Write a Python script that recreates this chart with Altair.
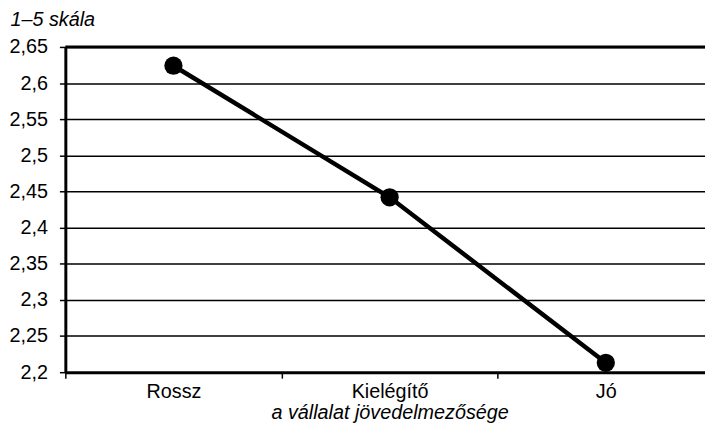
import altair as alt
import pandas as pd

categories = ["Rossz", "Kielégítő", "Jó"]
values = [2.624, 2.442, 2.213]
y_ticks = [2.2, 2.25, 2.3, 2.35, 2.4, 2.45, 2.5, 2.55, 2.6, 2.65]
y_domain = [2.2, 2.65]
y_title = "1–5 skála"
x_title = "a vállalat jövedelmezősége"

df = pd.DataFrame({"cat": categories, "val": values})
top_df = pd.DataFrame({"val": [y_domain[1]]})

FONT = "Liberation Sans"
FS = 20

x_enc = alt.X(
    "cat:N",
    sort=categories,
    title=x_title,
    scale=alt.Scale(type="band", range=[0, 656], paddingInner=0, paddingOuter=0),
    axis=alt.Axis(
        labelAngle=0,
        tickBand="extent",
        tickSize=6,
        labelPadding=4,
        titleFontStyle="italic",
        titleFontWeight="normal",
        titleY=41,
        titleBaseline="middle",
        grid=False,
    ),
)

y_axis = alt.Axis(
    values=y_ticks,
    labelExpr="replace(format(datum.value, '.2~f'), '.', ',')",
    labelOverlap=False,
    tickSize=6,
    labelPadding=12,
    grid=True,
    titleAngle=0,
    titleX=-56,
    titleY=-28,
    titleAlign="left",
    titleBaseline="middle",
    titleFontStyle="italic",
    titleFontWeight="normal",
)
y_scale = alt.Scale(domain=y_domain, nice=False, zero=False)

base = alt.Chart(df).encode(
    x=x_enc, y=alt.Y("val:Q", title=y_title, scale=y_scale, axis=y_axis)
)
line = base.mark_line(color="black", strokeWidth=4.5)
pts = base.mark_circle(color="black", size=340, opacity=1)
top = alt.Chart(top_df).mark_rule(color="black", strokeWidth=3).encode(
    y=alt.Y("val:Q", title=y_title, scale=y_scale, axis=y_axis)
)

chart = (
    alt.layer(line, pts, top)
    .properties(
        width=647,
        height=329,
        autosize=alt.AutoSizeParams(type="none"),
        padding={"left": 58, "top": 37, "right": 0, "bottom": 49},
    )
    .configure_view(stroke=None)
    .configure_axis(
        domainColor="black",
        domainWidth=3,
        tickColor="black",
        tickWidth=1.5,
        gridColor="black",
        gridWidth=1.5,
        labelFont=FONT,
        labelFontSize=FS,
        labelColor="black",
        titleFont=FONT,
        titleFontSize=FS,
        titleColor="black",
    )
)

chart.save("out.html", embed_options={"renderer": "svg", "actions": False})
